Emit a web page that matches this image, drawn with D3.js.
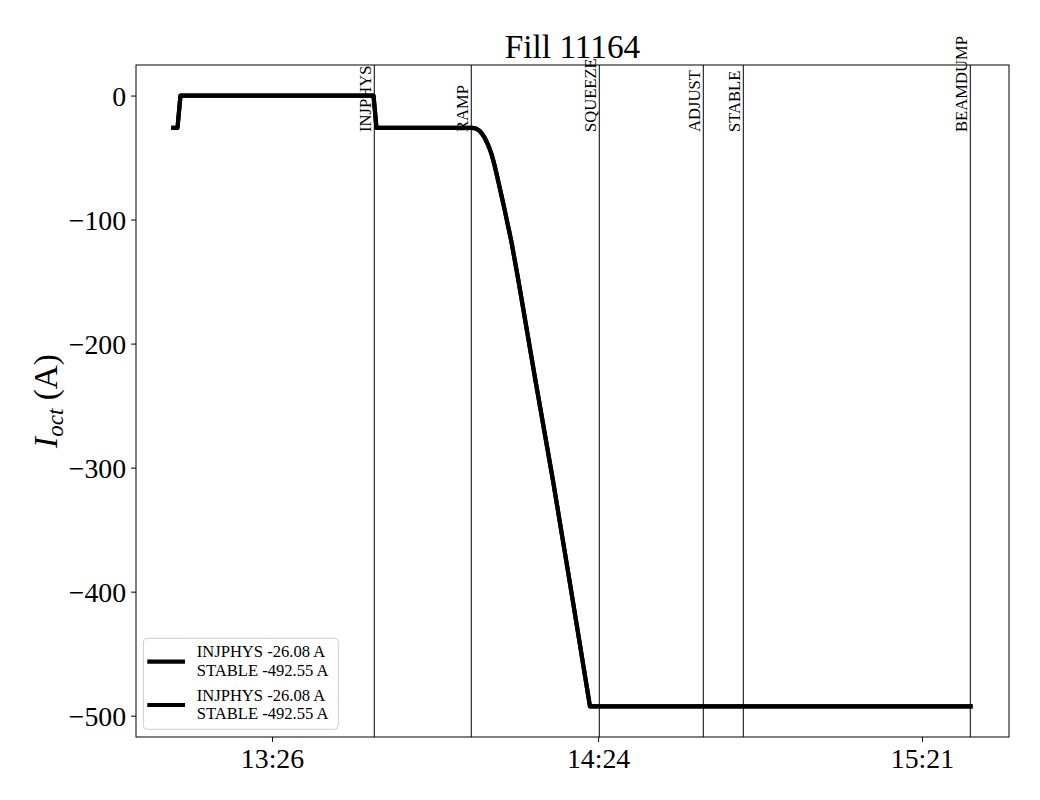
<!DOCTYPE html>
<html>
<head>
<meta charset="utf-8">
<script src="https://cdn.jsdelivr.net/npm/d3@7"></script>
<style>
  html, body { margin: 0; padding: 0; background: #fff; }
  svg { display: block; font-family: "Liberation Serif", "DejaVu Serif", serif; }
</style>
</head>
<body>
<svg id="chart" width="1040" height="800"></svg>
<script>
// ---- data (time in minutes since midnight, current in A) ----
const timeMin = [788.54, 789.28, 789.81, 823.96, 824.49, 841.33, 841.80, 842.22, 842.66, 843.10, 843.55, 843.99, 844.43, 844.87, 845.32, 845.76, 846.20, 846.64, 847.09, 847.53, 847.97, 848.41, 849.58, 852.62, 855.72, 859.03, 862.26, 929.59];
const current = [-26.08, -26.08, 0, 0, -26.08, -26.08, -26.2, -26.9, -28.2, -30.4, -33.4, -37.4, -42.0, -47.6, -55.2, -63.6, -72.4, -81.4, -90.6, -100.0, -109.4, -119.0, -148.7, -229.8, -310.5, -401.9, -492.55, -492.55];

const eventNames = ["INJPHYS", "RAMP", "SQUEEZE", "ADJUST", "STABLE", "BEAMDUMP"];
const eventTimes = [824.10, 841.26, 863.91, 882.31, 889.39, 929.55];

const xTickValues = [806, 863.7, 921];
const xTickLabels = ["13:26", "14:24", "15:21"];
const yTickValues = [0, -100, -200, -300, -400, -500];

const legendLabels = [
  ["INJPHYS -26.08 A", "STABLE -492.55 A"],
  ["INJPHYS -26.08 A", "STABLE -492.55 A"]
];
const chartTitle = "Fill 11164";

// ---- layout ----
const svg = d3.select("#chart");
const mL = 136, mT = 65, mR = 1009, mB = 737;

const x = d3.scaleLinear().domain([781.94, 936.4]).range([mL, mR]);
const y = d3.scaleLinear().domain([-517.18, 24.63]).range([mB, mT]);

const points = timeMin.map((t, i) => [t, current[i]]);

// event lines
const ev = svg.append("g");
eventTimes.forEach((t) => {
  ev.append("line")
    .attr("x1", x(t)).attr("x2", x(t))
    .attr("y1", mT).attr("y2", mB)
    .attr("stroke", "#000").attr("stroke-width", 1);
});

// data lines (two identical series)
const line = d3.line().x(d => x(d[0])).y(d => y(d[1]));
[0, 1].forEach(() => {
  svg.append("path")
    .datum(points)
    .attr("d", line)
    .attr("fill", "none")
    .attr("stroke", "#000")
    .attr("stroke-width", 4.2)
    .attr("stroke-linejoin", "round")
    .attr("stroke-linecap", "square");
});

// event labels
eventTimes.forEach((t, i) => {
  const tx = x(t) - 3, ty = 132;
  svg.append("text")
    .attr("transform", `translate(${tx},${ty}) rotate(-90)`)
    .attr("text-anchor", "start")
    .attr("font-size", 16.6)
    .text(eventNames[i]);
});

// axes
const xAxis = d3.axisBottom(x).tickValues(xTickValues)
  .tickFormat((d, i) => xTickLabels[i]).tickSize(4.9).tickPadding(6);
const gx = svg.append("g").attr("transform", `translate(0,${mB})`).call(xAxis);
gx.select(".domain").remove();
gx.selectAll("text").attr("font-size", 27.8).attr("font-family", "Liberation Serif").attr("fill", "#000").attr("dy", "0.72em");
gx.selectAll("line").attr("stroke", "#000");

const yAxis = d3.axisLeft(y).tickValues(yTickValues)
  .tickFormat(d => d < 0 ? "\u2212" + Math.abs(d) : String(d)).tickSize(4.9).tickPadding(5);
const gy = svg.append("g").attr("transform", `translate(${mL},0)`).call(yAxis);
gy.select(".domain").remove();
gy.selectAll("text").attr("font-size", 27.8).attr("font-family", "Liberation Serif").attr("fill", "#000").attr("dy", "0.34em");
gy.selectAll("line").attr("stroke", "#000");

// frame
svg.append("rect")
  .attr("x", mL).attr("y", mT)
  .attr("width", mR - mL).attr("height", mB - mT)
  .attr("fill", "none").attr("stroke", "#000").attr("stroke-width", 1);

// title
svg.append("text")
  .attr("x", (mL + mR) / 2).attr("y", 58)
  .attr("text-anchor", "middle")
  .attr("font-size", 33.3)
  .text(chartTitle);

// y label
const yl = svg.append("text")
  .attr("transform", `translate(57,${(mT + mB) / 2}) rotate(-90)`)
  .attr("text-anchor", "middle")
  .attr("font-size", 33.3);
yl.append("tspan").attr("font-style", "italic").text("I");
yl.append("tspan").attr("font-style", "italic").attr("font-size", 23).attr("dy", 6).text("oct");
yl.append("tspan").attr("dy", -6).text("\u00a0(A)");

// legend
const lg = svg.append("g");
lg.append("rect")
  .attr("x", 143.3).attr("y", 638.3).attr("width", 195).attr("height", 91)
  .attr("rx", 4).attr("ry", 4)
  .attr("fill", "#fff").attr("fill-opacity", 0.8)
  .attr("stroke", "#cccccc").attr("stroke-width", 1);
const entryY = [661.7, 705];
legendLabels.forEach((lab, i) => {
  lg.append("line")
    .attr("x1", 147.3).attr("x2", 185)
    .attr("y1", entryY[i]).attr("y2", entryY[i])
    .attr("stroke", "#000").attr("stroke-width", 4.2);
  lab.forEach((s, j) => {
    lg.append("text")
      .attr("x", 196.7).attr("y", entryY[i] - 4.5 + j * 18.7)
      .attr("font-size", 16.6)
      .text(s);
  });
});
</script>
</body>
</html>
